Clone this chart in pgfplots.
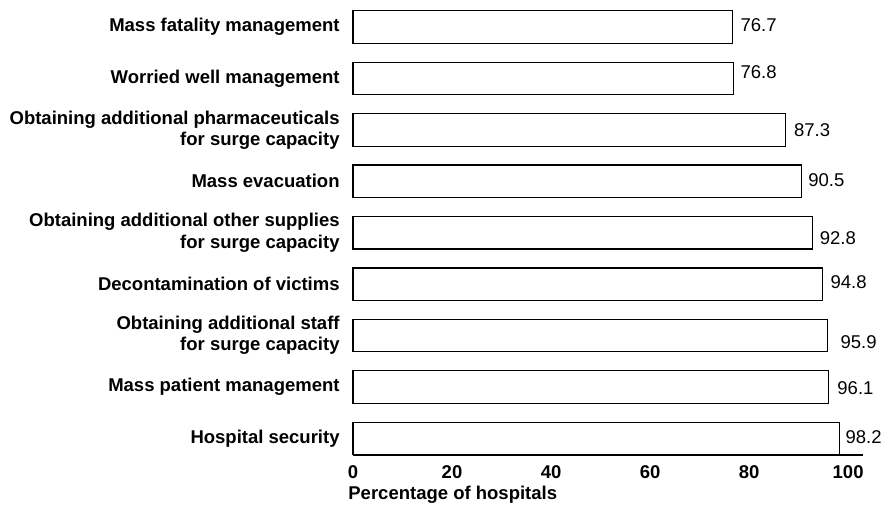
\documentclass[border=0pt]{standalone}
\usepackage{fontspec}
\setmainfont{Liberation Sans}
\usepackage{pgfplots}
\pgfplotsset{compat=1.18}
\usepackage{pgfplotstable}
\pgfplotstableread{
y val dx dy
0 98.2 2.9 0.7
1 96.1 4.0 -0.4
2 95.9 6.1 -3.2
3 94.8 3.8 1.1
4 92.8 3.4 -2.6
5 90.5 3.3 0.6
6 87.3 4.1 0
7 76.8 3.4 3.2
8 76.7 3.6 1
}\datatable
\begin{document}
\begin{tikzpicture}
\begin{axis}[
  scale only axis, width=255pt, height=222pt,
  xmin=0, xmax=103, ymin=-0.321, ymax=8.311,
  axis x line*=bottom, axis y line*=left,
  y axis line style={draw=none},
  x axis line style={line width=0.7pt},
  major tick length=0pt,
  xtick={0,20,...,100}, ytick={0,...,8},
  yticklabels={Hospital security, Mass patient management, {Obtaining additional staff\\for surge capacity}, Decontamination of victims, {Obtaining additional other supplies\\for surge capacity}, Mass evacuation, {Obtaining additional pharmaceuticals\\for surge capacity}, Worried well management, Mass fatality management},
  yticklabel style={align=right, font=\bfseries\fontsize{9.25}{10.6}\selectfont, inner sep=0pt, xshift=-6.5pt},
  xticklabel style={font=\bfseries\fontsize{9.25}{11}\selectfont, inner sep=0pt, yshift=-5pt},
  /pgf/number format/assume math mode=true,
  xlabel={Percentage of hospitals},
  xlabel style={at={(rel axis cs:0,0)}, anchor=north west, inner sep=0pt, yshift=-15.5pt, xshift=-2.5pt, font=\bfseries\fontsize{9.25}{11}\selectfont},
  clip=false,
]
\addplot[xbar, bar width=0.632, fill=white, draw=black, line width=0.6pt,
  point meta=x,
  visualization depends on={\thisrow{dx} \as \dx},
  visualization depends on={\thisrow{dy} \as \dy},
  nodes near coords={\pgfmathprintnumber[fixed,fixed zerofill,precision=1]{\pgfplotspointmeta}},
  nodes near coords style={anchor=west, inner sep=0pt, xshift=\dx pt, yshift=\dy pt, font=\fontsize{9.25}{11}\selectfont, text=black},
] table[x=val, y=y] {\datatable};
\coordinate (sw) at (rel axis cs:0,0);
\coordinate (ne) at (rel axis cs:1,1);
\end{axis}
\pgfresetboundingbox
\path ([xshift=-176.5pt,yshift=-24.5pt]sw) rectangle ([xshift=10.5pt,yshift=5.5pt]ne);
\end{tikzpicture}
\end{document}
